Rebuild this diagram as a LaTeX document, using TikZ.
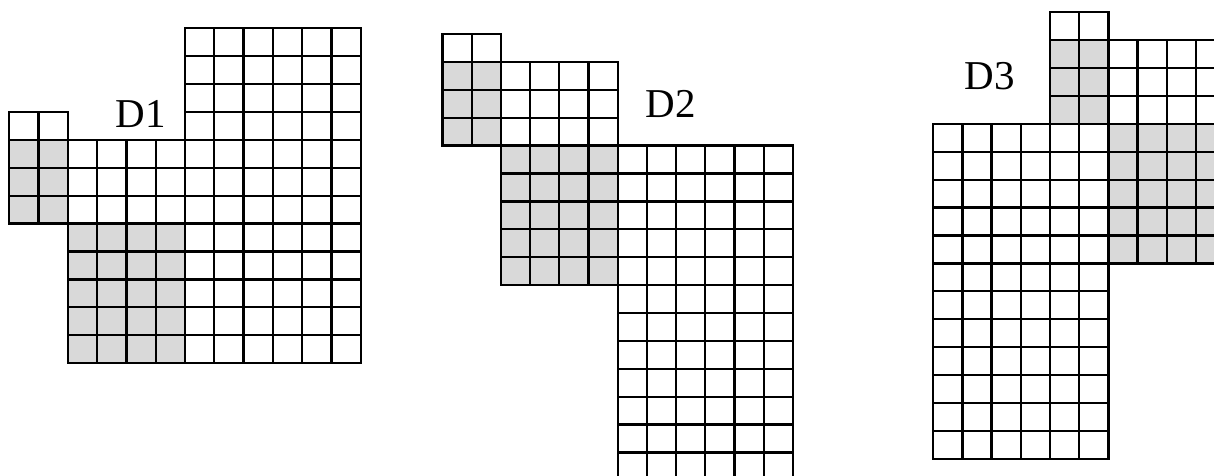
\documentclass[tikz,border=0pt]{standalone}
\usepackage{fontspec}
\setmainfont{Liberation Serif}
\definecolor{cellgray}{RGB}{217,217,217}
\tikzset{
  gl/.style={line width=2.3pt, black, line cap=rect},
  shade/.style={fill=cellgray},
  lbl/.style={font=\fontsize{41}{41}\selectfont, anchor=base, inner sep=0pt}
}
\newcommand\gridblk[4]{%
  \foreach \c in {#1,...,#2} \draw[gl] (\c,#3) -- (\c,#4);
  \foreach \r in {#3,...,#4} \draw[gl] (#1,\r) -- (#2,\r);}
\begin{document}
\begin{tikzpicture}[x=1pt,y=-1pt]
\useasboundingbox (0,0) rectangle (1214,475);
\clip (0,0) rectangle (1214,475);
% D1
\begin{scope}[shift={(185,28.3)}, x=29.3pt, y=-27.9pt]
  \fill[shade] (-6,4) rectangle (-4,7);
  \fill[shade] (-4,7) rectangle (0,12);
  \gridblk{0}{6}{0}{12}
  \gridblk{-4}{0}{4}{12}
  \gridblk{-6}{-4}{3}{7}
\end{scope}
\node[lbl] (d1) at (140.5,127) {D1};
% D2
\begin{scope}[shift={(617.7,34)}, x=29.2pt, y=-27.9pt]
  \fill[shade] (-6,1) rectangle (-4,4);
  \fill[shade] (-4,4) rectangle (0,9);
  \gridblk{0}{6}{4}{16}
  \gridblk{-4}{0}{1}{9}
  \gridblk{-6}{-4}{0}{4}
\end{scope}
\node[lbl] (d2) at (671,117) {D2};
% D3
\begin{scope}[shift={(1050,12.3)}, x=29.2pt, y=-27.9pt]
  \fill[shade] (0,1) rectangle (2,4);
  \fill[shade] (2,4) rectangle (6,9);
  \gridblk{-4}{2}{4}{16}
  \gridblk{2}{6}{1}{9}
  \gridblk{0}{2}{0}{4}
\end{scope}
\node[lbl] (d3) at (990,89) {D3};
\end{tikzpicture}
\end{document}
